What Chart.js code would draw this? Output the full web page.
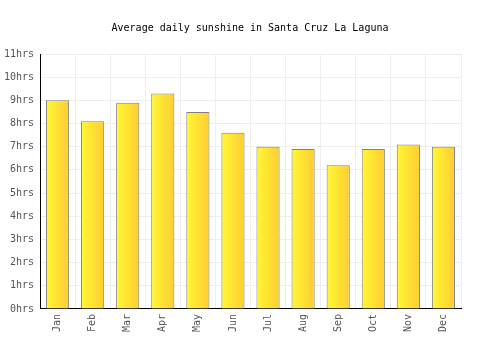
<!DOCTYPE html>
<html>
<head>
<meta charset="utf-8">
<script src="https://cdn.jsdelivr.net/npm/chart.js@4/dist/chart.umd.min.js"></script>
<style>
html,body{margin:0;padding:0;background:#fff;}
#wrap{width:500px;height:350px;position:relative;}
</style>
</head>
<body>
<div id="wrap"><canvas id="c" width="500" height="350"></canvas></div>
<script>
const months = ['Jan','Feb','Mar','Apr','May','Jun','Jul','Aug','Sep','Oct','Nov','Dec'];
const sunshineHours = [9.0, 8.1, 8.9, 9.3, 8.5, 7.6, 7.0, 6.9, 6.2, 6.9, 7.1, 7.0];
const yTickMax = 11;
const titleText = 'Average daily sunshine in Santa Cruz La Laguna';

const BAR_PCT = 0.66;

function barGradient(context) {
  const chart = context.chart;
  const xs = chart.scales && chart.scales.x;
  if (!chart.chartArea || !xs || context.dataIndex === undefined) return '#ffdd33';
  const cx = xs.getPixelForValue(context.dataIndex);
  const w = (chart.chartArea.width / months.length) * BAR_PCT;
  const g = chart.ctx.createLinearGradient(cx - w / 2, 0, cx + w / 2, 0);
  g.addColorStop(0, '#fff833');
  g.addColorStop(1, '#ffcc33');
  return g;
}

const font = { family: '"DejaVu Sans Mono", monospace', size: 10 };

new Chart(document.getElementById('c'), {
  type: 'bar',
  data: {
    labels: months,
    datasets: [{
      data: sunshineHours,
      backgroundColor: barGradient,
      borderColor: '#808080',
      borderWidth: 1,
      barPercentage: BAR_PCT,
      categoryPercentage: 1.0
    }]
  },
  options: {
    responsive: false,
    animation: false,
    layout: { padding: { left: 0, right: 0, top: 0, bottom: 13 } },
    plugins: {
      legend: { display: false },
      tooltip: { enabled: false },
      title: {
        display: true,
        text: titleText,
        color: '#000',
        font: { family: '"DejaVu Sans Mono", monospace', size: 10, weight: 'normal' },
        padding: { top: 22, bottom: 20 }
      }
    },
    scales: {
      x: {
        grid: { color: '#eeeeee', offset: true, drawTicks: false },
        border: { color: '#000', width: 1 },
        ticks: { color: '#555', font: font, minRotation: 90, maxRotation: 90, padding: 5 }
      },
      y: {
        min: 0, max: yTickMax,
        afterFit(scale) { scale.width = 40; },
        grid: { color: '#eeeeee', drawTicks: false },
        border: { color: '#000', width: 1 },
        ticks: { stepSize: 1, color: '#555', font: font, padding: 6,
          callback: v => v + 'hrs' }
      },
      yRight: {
        position: 'right',
        min: 0, max: yTickMax,
        afterFit(scale) { scale.width = 39; },
        grid: { display: false, drawTicks: false },
        border: { display: false },
        ticks: { display: false }
      }
    }
  }
});
</script>
</body>
</html>
